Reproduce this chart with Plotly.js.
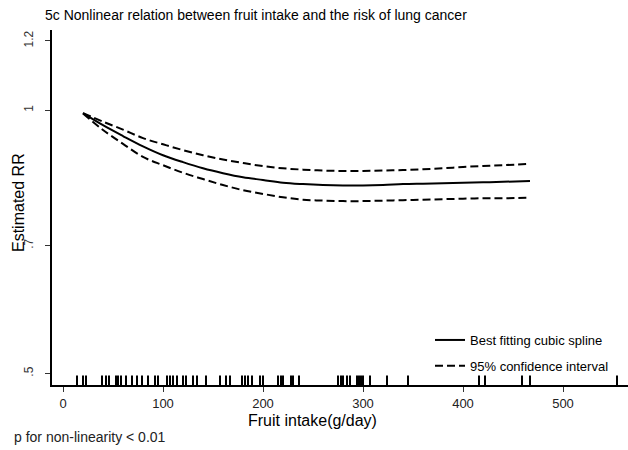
<!DOCTYPE html>
<html>
<head>
<meta charset="utf-8">
<script src="https://cdn.plot.ly/plotly-3.0.1.min.js"></script>
<style>html,body{margin:0;padding:0;background:#fff}#chart{width:628px;height:450px}</style>
</head>
<body>
<div id="chart"></div>
<script>
// ---- data ----
const fruitIntake = [20, 40, 60, 80, 100, 120, 140, 160, 180, 200, 220, 240, 260, 280, 300, 320, 340, 360, 380, 400, 420, 440, 467];
const rrSpline = [0.992, 0.961, 0.934, 0.909, 0.888, 0.872, 0.858, 0.847, 0.838, 0.832, 0.826, 0.823, 0.821, 0.820, 0.820, 0.821, 0.823, 0.824, 0.825, 0.826, 0.827, 0.828, 0.830];
const rrUpper = [0.992, 0.970, 0.950, 0.929, 0.914, 0.900, 0.888, 0.878, 0.870, 0.863, 0.858, 0.855, 0.853, 0.852, 0.852, 0.853, 0.854, 0.856, 0.858, 0.861, 0.863, 0.865, 0.868];
const rrLower = [0.991, 0.949, 0.915, 0.884, 0.865, 0.848, 0.834, 0.821, 0.810, 0.802, 0.795, 0.790, 0.788, 0.787, 0.787, 0.788, 0.789, 0.790, 0.791, 0.792, 0.793, 0.793, 0.794];
const rugIntake = [14, 20, 23, 39, 43, 46, 53, 55, 58, 63, 69, 74, 79, 85, 92, 95, 104, 107, 110, 114, 120, 123, 130, 134, 143, 157, 163, 167, 179, 182, 185, 189, 197, 200, 215, 218, 220, 228, 230, 236, 275, 278, 280, 284, 287, 294, 296, 298, 300, 307, 324, 345, 416, 422, 459, 467, 554];
const xTickVals = [0, 100, 200, 300, 400, 500];
const yTickVals = [0.5, 0.7, 1, 1.2];
const yTickText = ['.5', '.7', '1', '1.2'];
const labels = {
  title: '5c Nonlinear relation between fruit intake and the risk of lung cancer',
  xTitle: 'Fruit intake(g/day)',
  yTitle: 'Estimated RR',
  spline: 'Best fitting cubic spline',
  ci: '95% confidence interval',
  note: 'p for non-linearity < 0.01'
};

// ---- layout constants ----
const W = 628, H = 450;
const M = {l: 52, r: 0, t: 30, b: 65};
const plotW = W - M.l - M.r;
const plotH = H - M.t - M.b;
const yRange = [Math.log10(0.485), Math.log10(1.2348)];
const xRange = [-11, 565];
// rug sits 4px above the x axis line
const rugY = Math.pow(10, yRange[0] + (yRange[1] - yRange[0]) * 4 / plotH);

const font = 'Liberation Sans, Arial, sans-serif';

const traces = [
  {x: fruitIntake, y: rrSpline, type: 'scatter', mode: 'lines', name: labels.spline,
   line: {color: '#000', width: 2, shape: 'spline'}, legendgroup: 'a'},
  {x: fruitIntake, y: rrUpper, type: 'scatter', mode: 'lines', name: labels.ci,
   line: {color: '#000', width: 2, dash: '8px,4px', shape: 'spline'}, legendgroup: 'b'},
  {x: fruitIntake, y: rrLower, type: 'scatter', mode: 'lines', name: labels.ci, showlegend: false,
   line: {color: '#000', width: 2, dash: '8px,4px', shape: 'spline'}, legendgroup: 'b'},
  {x: rugIntake, y: rugIntake.map(() => rugY), type: 'scatter', mode: 'markers', showlegend: false,
   marker: {symbol: 'line-ns-open', size: 8, color: '#000', line: {color: '#000', width: 2}},
   cliponaxis: false, hoverinfo: 'x'}
];

const layout = {
  width: W, height: H,
  margin: M,
  paper_bgcolor: '#fff', plot_bgcolor: '#fff',
  font: {family: font, color: '#000'},
  showlegend: true,
  title: {text: labels.title, x: 45 / W, xref: 'container', xanchor: 'left',
          y: 1 - 15 / H, yref: 'container', yanchor: 'middle',
          font: {family: font, size: 14, color: '#000'}},
  xaxis: {range: xRange, tickvals: xTickVals, ticks: 'outside', ticklen: 5, tickwidth: 1, tickcolor: '#333',
          showline: true, linewidth: 2, linecolor: '#000', showgrid: false, zeroline: false,
          tickfont: {family: font, size: 13, color: '#222'}},
  yaxis: {type: 'log', range: yRange, tickvals: yTickVals, ticktext: yTickText, tickangle: -90,
          ticks: 'outside', ticklen: 5, tickwidth: 1, tickcolor: '#333', ticklabelstandoff: 7,
          showline: true, linewidth: 2, linecolor: '#000', showgrid: false, zeroline: false,
          tickfont: {family: font, size: 12, color: '#333'}},
  legend: {x: (430 - M.l) / plotW, xanchor: 'left', y: (385 - 325) / plotH, yanchor: 'top',
           bgcolor: 'rgba(0,0,0,0)', borderwidth: 0, tracegroupgap: 6,
           font: {family: font, size: 13, color: '#000'}},
  annotations: [
    {text: labels.xTitle, xref: 'paper', yref: 'paper', x: (312 - M.l) / plotW, y: -(420 - 385) / plotH,
     xanchor: 'center', yanchor: 'middle', showarrow: false, font: {family: font, size: 16, color: '#000'}},
    {text: labels.yTitle, xref: 'paper', yref: 'paper', x: (18 - M.l) / plotW, y: (385 - 203) / plotH,
     xanchor: 'center', yanchor: 'middle', textangle: -90, showarrow: false,
     font: {family: font, size: 16, color: '#000'}},
    {text: labels.note, xref: 'paper', yref: 'paper', x: (12 - M.l) / plotW, y: -(437 - 385) / plotH,
     xanchor: 'left', yanchor: 'middle', showarrow: false, font: {family: font, size: 14, color: '#222'}}
  ]
};

Plotly.newPlot('chart', traces, layout, {displayModeBar: false, staticPlot: true});
</script>
</body>
</html>
